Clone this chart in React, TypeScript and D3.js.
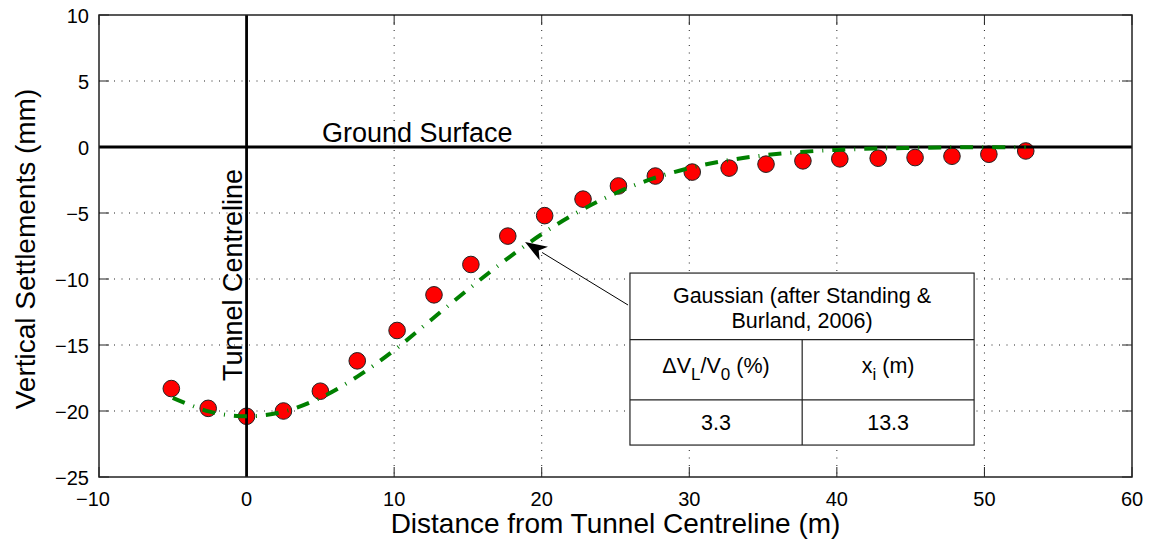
import React from "react";
import * as d3 from "d3";

// Measured settlements (red markers)
const distance = [-5.1, -2.6, 0, 2.5, 5.0, 7.5, 10.2, 12.7, 15.2, 17.7, 20.2, 22.8, 25.2, 27.7, 30.2, 32.7, 35.2, 37.7, 40.2, 42.8, 45.3, 47.8, 50.3, 52.8];
const settlement = [-18.3, -19.8, -20.4, -20.0, -18.5, -16.2, -13.9, -11.2, -8.9, -6.75, -5.2, -3.95, -2.95, -2.2, -1.9, -1.6, -1.3, -1.05, -0.9, -0.85, -0.8, -0.7, -0.55, -0.3];

// Gaussian curve (green dash-dot)
const curveX = [-5, -2.5, 0, 2.5, 5, 7.5, 10, 12.5, 15, 17.5, 20, 22.5, 25, 27.5, 30, 32.5, 35, 37.5, 40, 42.5, 45, 47.5, 50, 52.8];
const curveY = [-19.0, -20.05, -20.4, -20.05, -19.0, -17.4, -15.4, -13.1, -10.8, -8.6, -6.6, -4.9, -3.5, -2.4, -1.6, -1.03, -0.64, -0.38, -0.22, -0.12, -0.07, -0.03, -0.02, -0.01];

const xTicks = [-10, 0, 10, 20, 30, 40, 50, 60];
const yTicks = [10, 5, 0, -5, -10, -15, -20, -25];

const tableTitle = ["Gaussian (after Standing &", "Burland, 2006)"];
const tableValues = ["3.3", "13.3"];

const W = 1153;
const H = 550;
const M = { left: 99, right: 1132, top: 15, bottom: 477 };
const FONT = "'Liberation Sans', Arial, Helvetica, sans-serif";

export default function App() {
  const x = d3.scaleLinear().domain([-10, 60]).range([M.left, M.right]);
  const y = d3.scaleLinear().domain([-25, 10]).range([M.bottom, M.top]);

  const curvePts: [number, number][] = curveX.map((v, i) => [v, curveY[i]]);
  const line = d3
    .line<[number, number]>()
    .x((d) => x(d[0]))
    .y((d) => y(d[1]))
    .curve(d3.curveCatmullRom);

  const tickLen = 10;

  // annotation (data units)
  const tipX = 18.87, tipY = -7.2;
  const tailX = 25.85, tailY = -11.97;
  const boxX0 = 25.98, boxX1 = 49.3, boxY0 = -9.55, boxY1 = -22.58;
  const row1 = -14.6, row2 = -19.15, colX = 37.65;

  const tx = x(tipX), ty = y(tipY), sx = x(tailX), sy = y(tailY);
  const dx = tx - sx, dy = ty - sy;
  const len = Math.hypot(dx, dy);
  const ux = dx / len, uy = dy / len;
  const nx = -uy, ny = ux;
  const L = 22, HW = 8, notch = 6;
  const bx = tx - ux * L, by = ty - uy * L;
  const headPts = [
    [tx, ty],
    [bx + nx * HW, by + ny * HW],
    [tx - ux * (L - notch), ty - uy * (L - notch)],
    [bx - nx * HW, by - ny * HW],
  ];

  const bxl = x(boxX0), bxr = x(boxX1), byt = y(boxY0), byb = y(boxY1);
  const r1 = y(row1), r2 = y(row2), cx = x(colX);
  const leftC = (bxl + cx) / 2, rightC = (cx + bxr) / 2, midC = (bxl + bxr) / 2;

  return (
    <svg width={W} height={H} style={{ position: "absolute", left: 0, top: 0, background: "#fff" }} fontFamily={FONT}>
      <rect x={0} y={0} width={W} height={H} fill="#fff" />
      {/* grid */}
      <g stroke="#222" strokeWidth={1} strokeDasharray="1,6.5">
        {xTicks.slice(1, -1).map((t) => (
          <line key={"gx" + t} x1={x(t)} x2={x(t)} y1={M.top} y2={M.bottom} />
        ))}
        {yTicks.slice(1, -1).map((t) => (
          <line key={"gy" + t} x1={M.left} x2={M.right} y1={y(t)} y2={y(t)} />
        ))}
      </g>
      {/* ticks */}
      <g stroke="#222" strokeWidth={1}>
        {xTicks.map((t) => (
          <g key={"tx" + t}>
            <line x1={x(t)} x2={x(t)} y1={M.bottom} y2={M.bottom - tickLen} />
            <line x1={x(t)} x2={x(t)} y1={M.top} y2={M.top + tickLen} />
          </g>
        ))}
        {yTicks.map((t) => (
          <g key={"ty" + t}>
            <line x1={M.left} x2={M.left + tickLen} y1={y(t)} y2={y(t)} />
            <line x1={M.right} x2={M.right - tickLen} y1={y(t)} y2={y(t)} />
          </g>
        ))}
      </g>
      {/* markers */}
      <g>
        {distance.map((d, i) => (
          <circle key={"m" + i} cx={x(d)} cy={y(settlement[i])} r={8.3} fill="#ff0000" stroke="#222" strokeWidth={1} />
        ))}
      </g>
      {/* zero lines */}
      <line x1={M.left} x2={M.right} y1={y(0)} y2={y(0)} stroke="#000" strokeWidth={2.8} />
      <line x1={x(0)} x2={x(0)} y1={M.top} y2={M.bottom} stroke="#000" strokeWidth={2.8} />
      {/* gaussian curve */}
      <path d={line(curvePts) || ""} fill="none" stroke="#008000" strokeWidth={4} strokeDasharray="13,9,1,9" />
      {/* axes box */}
      <rect x={M.left} y={M.top} width={M.right - M.left} height={M.bottom - M.top} fill="none" stroke="#222" strokeWidth={1.5} />
      {/* tick labels */}
      <g fontSize={20} fill="#000">
        {xTicks.map((t) => (
          <text key={"lx" + t} x={t < 0 ? x(t) + 11 : x(t)} y={506} textAnchor={t < 0 ? "end" : "middle"}>
            {t < 0 ? "\u2212" + Math.abs(t) : String(t)}
          </text>
        ))}
        {yTicks.map((t) => (
          <text key={"ly" + t} x={89} y={y(t) + 7.5} textAnchor="end">
            {t < 0 ? "\u2212" + Math.abs(t) : String(t)}
          </text>
        ))}
      </g>
      {/* axis titles */}
      <text x={(M.left + M.right) / 2} y={533} fontSize={28} textAnchor="middle">
        Distance from Tunnel Centreline (m)
      </text>
      <text transform={`translate(35, ${(M.top + M.bottom) / 2 + 3}) rotate(-90)`} fontSize={28} textAnchor="middle">
        Vertical Settlements (mm)
      </text>
      {/* annotations */}
      <text x={322} y={141.5} fontSize={27}>Ground Surface</text>
      <text transform={`translate(242, 275) rotate(-90)`} fontSize={27} textAnchor="middle">
        Tunnel Centreline
      </text>
      {/* arrow */}
      <line x1={sx} y1={sy} x2={bx + ux * 2} y2={by + uy * 2} stroke="#000" strokeWidth={1} />
      <polygon points={headPts.map((p) => p.join(",")).join(" ")} fill="#000" />
      {/* table */}
      <g stroke="#222" strokeWidth={1.2} fill="none">
        <rect x={bxl} y={byt} width={bxr - bxl} height={byb - byt} fill="#fff" />
        <line x1={bxl} x2={bxr} y1={r1} y2={r1} />
        <line x1={bxl} x2={bxr} y1={r2} y2={r2} />
        <line x1={cx} x2={cx} y1={r1} y2={byb} />
      </g>
      <g fontSize={21.5} fill="#000" textAnchor="middle">
        <text x={midC} y={byt + 30}>{tableTitle[0]}</text>
        <text x={midC} y={byt + 55}>{tableTitle[1]}</text>
        <text x={leftC} y={r1 + 33}>
          <tspan>ΔV</tspan>
          <tspan fontSize={17} dy={7}>L</tspan>
          <tspan dy={-7}>/V</tspan>
          <tspan fontSize={17} dy={7}>0</tspan>
          <tspan dy={-7}> (%)</tspan>
        </text>
        <text x={rightC} y={r1 + 33}>
          <tspan>x</tspan>
          <tspan fontSize={17} dy={7}>i</tspan>
          <tspan dy={-7}> (m)</tspan>
        </text>
        <text x={leftC} y={r2 + 30}>{tableValues[0]}</text>
        <text x={rightC} y={r2 + 30}>{tableValues[1]}</text>
      </g>
    </svg>
  );
}
